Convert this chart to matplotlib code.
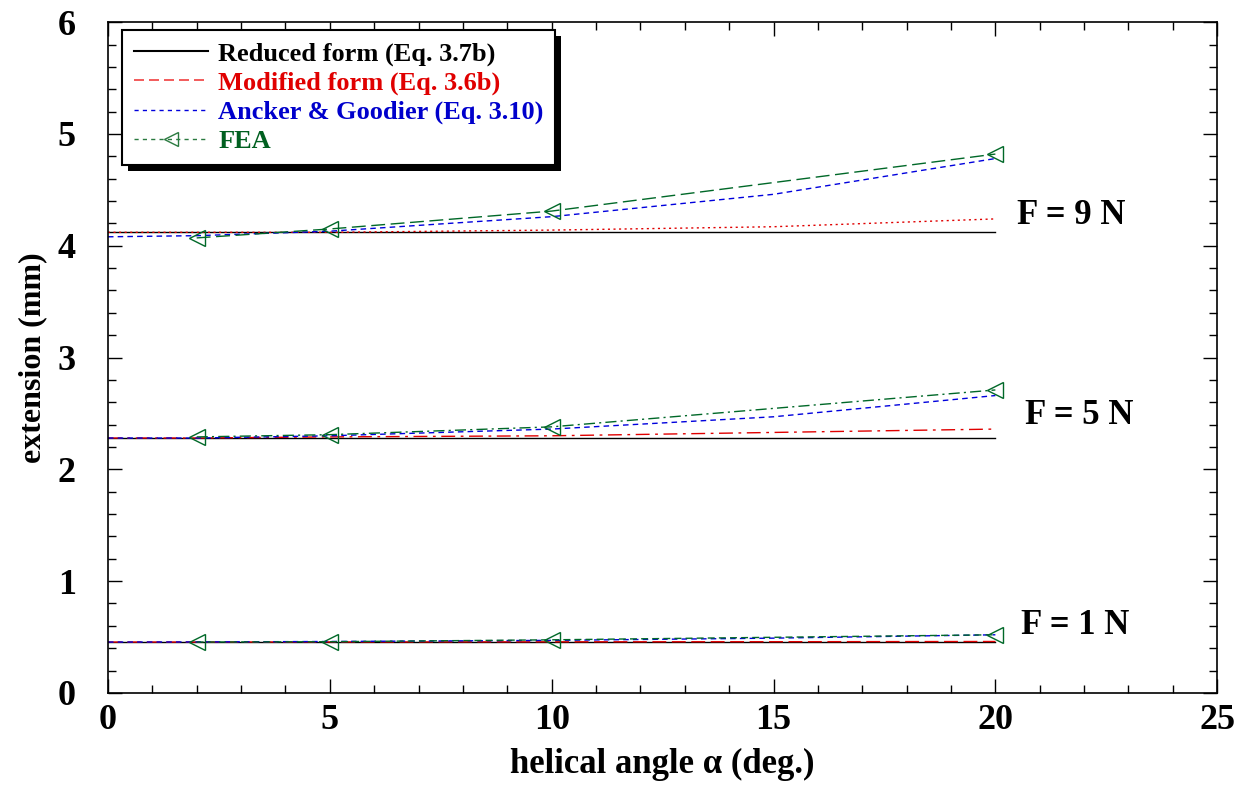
import matplotlib
matplotlib.use("Agg")
import matplotlib.pyplot as plt
from matplotlib.lines import Line2D
from matplotlib.patches import Rectangle
from matplotlib.ticker import MultipleLocator

plt.rcParams['font.family'] = ['Liberation Serif', 'DejaVu Serif']
plt.rcParams['font.weight'] = 'bold'

# helical angle values (deg.)
alpha = [0, 2, 5, 10, 15, 20]
alpha_fea = [2, 5, 10, 20]

# Reduced form (Eq. 3.7b) - constant with alpha
reduced = {9: [4.12] * 6, 5: [2.28] * 6, 1: [0.455] * 6}
# Modified form (Eq. 3.6b)
modified = {9: [4.12, 4.12, 4.12, 4.14, 4.17, 4.24],
            5: [2.28, 2.28, 2.29, 2.30, 2.33, 2.36],
            1: [0.455, 0.455, 0.456, 0.457, 0.458, 0.46]}
# Ancker & Goodier (Eq. 3.10)
ancker = {9: [4.08, 4.09, 4.13, 4.26, 4.46, 4.78],
          5: [2.28, 2.28, 2.30, 2.36, 2.47, 2.66],
          1: [0.455, 0.456, 0.46, 0.47, 0.49, 0.52]}
# FEA results
fea = {9: [4.07, 4.15, 4.31, 4.82],
       5: [2.29, 2.31, 2.38, 2.71],
       1: [0.455, 0.458, 0.475, 0.52]}

forces = [9, 5, 1]
force_labels = ['F = 9 N', 'F = 5 N', 'F = 1 N']
label_pos = [(21.7, 4.27), (21.9, 2.48), (21.8, 0.6)]

red_style = {9: (0, (1.5, 2.5)), 5: (0, (10, 4, 2, 4)), 1: (0, (10, 4))}
blue_style = (0, (4, 3))
green_style = {9: (0, (10, 4)), 5: (0, (8, 3, 1.5, 3)), 1: (0, (5, 3))}

red = '#e00000'
blue = '#0000dd'
green = '#006828'

fig = plt.figure(figsize=(12.45, 7.91), dpi=100)
ax = fig.add_axes([0.0867, 0.124, 0.891, 0.848])

for F in forces:
    ax.plot(alpha[0:1] + alpha[-1:], [reduced[F][0], reduced[F][-1]], color='black', lw=1.0)
    ax.plot(alpha, modified[F], color=red, lw=1.0, linestyle=red_style[F])
    ax.plot(alpha, ancker[F], color=blue, lw=1.0, linestyle=blue_style)
    ax.plot(alpha_fea, fea[F], color=green, lw=1.0, linestyle=green_style[F],
            marker='<', markersize=12, markerfacecolor='none', markeredgecolor=green,
            markeredgewidth=1.0)

for txt, (tx, ty) in zip(force_labels, label_pos):
    ax.text(tx, ty, txt, fontsize=25, fontweight='bold', ha='center', va='center')

ax.set_xlim(0, 25)
ax.set_ylim(0, 6)
ax.xaxis.set_major_locator(MultipleLocator(5))
ax.xaxis.set_minor_locator(MultipleLocator(1))
ax.yaxis.set_major_locator(MultipleLocator(1))
ax.yaxis.set_minor_locator(MultipleLocator(0.2))
ax.tick_params(which='both', direction='in', top=True, right=True, width=1.0)
ax.tick_params(which='major', length=10, labelsize=26)
ax.tick_params(axis='x', which='major', pad=8)
ax.tick_params(axis='y', which='major', pad=23)
ax.tick_params(which='minor', length=6)
for lab in ax.get_xticklabels() + ax.get_yticklabels():
    lab.set_fontweight('bold')
for s in ax.spines.values():
    s.set_linewidth(1.2)

ax.set_xlabel('helical angle α (deg.)', fontsize=25, fontweight='bold', labelpad=8)
ax.set_ylabel('extension (mm)', fontsize=23, fontweight='bold', labelpad=8)

handles = [Line2D([], [], color='black', lw=1.5),
           Line2D([], [], color='#f04040', lw=1.2, linestyle=(0, (6, 3))),
           Line2D([], [], color=blue, lw=1.0, linestyle=(0, (3, 3))),
           Line2D([], [], color='#2a7a40', lw=1.0, linestyle=(0, (3, 3)),
                  marker='<', markersize=10, markerfacecolor='none')]
labels = ['Reduced form (Eq. 3.7b)', 'Modified form (Eq. 3.6b)',
          'Ancker & Goodier (Eq. 3.10)', 'FEA']
leg = ax.legend(handles, labels, loc='upper left', bbox_to_anchor=(0.0126, 0.988),
                borderaxespad=0, fancybox=False, framealpha=1, edgecolor='black',
                prop={'size': 19, 'weight': 'bold'}, handlelength=2.8,
                handletextpad=0.4, labelspacing=0.2, borderpad=0.45)
leg.get_frame().set_linewidth(1.5)
for t, c in zip(leg.get_texts(), ['black', red, '#0000cc', '#006020']):
    t.set_color(c)
leg.set_zorder(10)

# black drop shadow behind the legend box
fig.canvas.draw()
bb = leg.get_window_extent()
inv = ax.transAxes.inverted()
(x0, y0), (x1, y1) = inv.transform([(bb.x0 + 6, bb.y0 - 6), (bb.x1 + 6, bb.y1 - 6)])
ax.add_patch(Rectangle((x0, y0), x1 - x0, y1 - y0, transform=ax.transAxes,
                       facecolor='black', edgecolor='none', zorder=9, clip_on=False))

fig.savefig('out.png', dpi=100)
